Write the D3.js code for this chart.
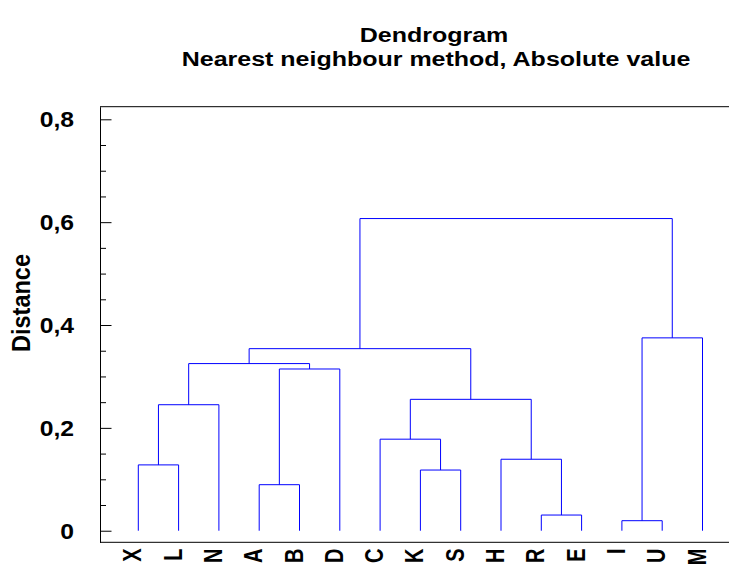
<!DOCTYPE html>
<html>
<head>
<meta charset="utf-8">
<script src="https://cdn.jsdelivr.net/npm/d3@7"></script>
<style>
    body { margin: 0; background: #fff; }
    text { font-family: "Liberation Sans", Arial, sans-serif; font-weight: bold; fill: #000; }
    .link { fill: none; stroke: #0000ff; stroke-width: 1; }
    .frame { stroke: #000; stroke-width: 1; fill: none; }
</style>
</head>
<body>
<script>
// leaves in dendrogram order
var leaves = ['X', 'L', 'N', 'A', 'B', 'D', 'C', 'K', 'S', 'H', 'R', 'E', 'I', 'U', 'M'];
// linkage: merge i creates cluster 'c' + (i + 1)
var mergeLeft = ['I', 'R', 'A', 'K', 'X', 'H', 'C', 'c5', 'c7', 'c3', 'c8', 'c11', 'c1', 'c12'];
var mergeRight = ['U', 'E', 'B', 'S', 'L', 'c2', 'c4', 'N', 'c6', 'D', 'c10', 'c9', 'M', 'c13'];
var mergeHeight = [0.0195, 0.0305, 0.0895, 0.118, 0.128, 0.139, 0.178, 0.245, 0.2555, 0.3145, 0.325, 0.354, 0.375, 0.607];
var majorTicks = [0, 0.2, 0.4, 0.6, 0.8];
var tickLabels = ['0', '0,2', '0,4', '0,6', '0,8'];
var minorTicks = [0.05, 0.1, 0.15, 0.25, 0.3, 0.35, 0.45, 0.5, 0.55, 0.65, 0.7, 0.75];

(function() {
    var w = 729,
        h = 565,
        left = 100,
        top = 106.7,
        bottom = 542.3,
        stretch = 1.25; // text in the original is drawn wider than tall

    var svg = d3.select('body')
        .append('svg')
        .attr('width', w)
        .attr('height', h);

    var x = d3.scalePoint()
        .domain(leaves)
        .range([138.3, 702.5]);
    var y = d3.scaleLinear()
        .domain([-0.0225, 0.8245])
        .range([bottom, top]);

    // titles
    svg.append('text')
        .attr('transform', 'translate(434,42) scale(' + stretch + ',1)')
        .attr('text-anchor', 'middle')
        .style('font-size', '20px')
        .text('Dendrogram');
    svg.append('text')
        .attr('transform', 'translate(436,66) scale(' + stretch + ',1)')
        .attr('text-anchor', 'middle')
        .style('font-size', '20px')
        .text('Nearest neighbour method, Absolute value');

    // frame: top and bottom run to the right edge, no right border
    svg.append('line').attr('class', 'frame')
        .attr('x1', left).attr('x2', w).attr('y1', top).attr('y2', top);
    svg.append('line').attr('class', 'frame')
        .attr('x1', left).attr('x2', w).attr('y1', bottom).attr('y2', bottom);

    // y axis with inward ticks
    svg.append('g')
        .attr('transform', 'translate(' + left + ',0)')
        .call(d3.axisRight(y).tickValues(majorTicks).tickSize(11.5).tickSizeOuter(0).tickFormat(''))
        .call(function(g) { g.selectAll('line, path').attr('stroke', '#000'); });
    svg.append('g')
        .attr('transform', 'translate(' + left + ',0)')
        .call(d3.axisRight(y).tickValues(minorTicks).tickSize(6).tickSizeOuter(0).tickFormat(''))
        .call(function(g) { g.select('.domain').remove(); g.selectAll('line').attr('stroke', '#000'); });

    svg.selectAll('.ylabel')
        .data(majorTicks)
        .enter()
        .append('text')
        .attr('class', 'ylabel')
        .attr('transform', function(d) { return 'translate(74,' + (y(d) + 8) + ') scale(1.15,1)'; })
        .attr('text-anchor', 'end')
        .style('font-size', '21.5px')
        .text(function(d, i) { return tickLabels[i]; });

    svg.append('text')
        .attr('transform', 'translate(30,303) scale(1.1,1) rotate(-90)')
        .attr('text-anchor', 'middle')
        .style('font-size', '23.5px')
        .text('Distance');

    // leaf labels
    svg.selectAll('.xlabel')
        .data(leaves)
        .enter()
        .append('text')
        .attr('class', 'xlabel')
        .attr('transform', function(d) { return 'translate(' + (x(d) + 3) + ',548.5) scale(' + stretch + ',1) rotate(-90)'; })
        .attr('text-anchor', 'end')
        .style('font-size', '20px')
        .text(function(d) { return d; });

    // build cluster positions from the linkage
    var nodeX = {}, nodeH = {};
    leaves.forEach(function(d) { nodeX[d] = x(d); nodeH[d] = 0; });
    var links = mergeHeight.map(function(hgt, i) {
        var a = mergeLeft[i], b = mergeRight[i], id = 'c' + (i + 1);
        nodeX[id] = (nodeX[a] + nodeX[b]) / 2;
        nodeH[id] = hgt;
        return {x1: nodeX[a], h1: nodeH[a], x2: nodeX[b], h2: nodeH[b], h: hgt};
    });

    svg.selectAll('.link')
        .data(links)
        .enter()
        .append('path')
        .attr('class', 'link')
        .attr('d', function(d) {
            return 'M' + d.x1 + ',' + y(d.h1) +
                'V' + y(d.h) +
                'H' + d.x2 +
                'V' + y(d.h2);
        });
})();
</script>
</body>
</html>
